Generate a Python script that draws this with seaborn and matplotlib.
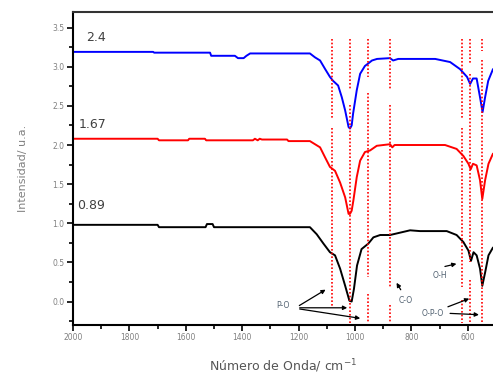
import numpy as np
import pandas as pd
import seaborn as sns
import matplotlib.pyplot as plt
from matplotlib.ticker import MultipleLocator

# spectra (wavenumber in cm-1, intensity in a.u.)
wn_blue = [2000, 1716, 1712, 1514, 1510, 1426, 1415, 1395, 1385, 1372, 1160,
           1142, 1124, 1106, 1089, 1078, 1060, 1047, 1035, 1023, 1018, 1012,
           1007, 994, 982, 965, 954, 940, 922, 876, 865, 847, 716, 663, 628,
           603, 592, 582, 569, 557, 548, 539, 528, 511]
y_blue = [3.19, 3.19, 3.18, 3.18, 3.14, 3.14, 3.11, 3.11, 3.14, 3.17, 3.17,
          3.12, 3.08, 2.97, 2.87, 2.82, 2.76, 2.61, 2.44, 2.23, 2.21, 2.25,
          2.40, 2.70, 2.91, 3.01, 3.04, 3.08, 3.10, 3.11, 3.08, 3.10, 3.10,
          3.06, 2.97, 2.87, 2.78, 2.85, 2.85, 2.61, 2.42, 2.61, 2.82, 2.97]

wn_red = [2000, 1700, 1695, 1592, 1588, 1532, 1528, 1362, 1355, 1345, 1338,
          1330, 1241, 1236, 1160, 1142, 1124, 1106, 1089, 1071, 1053, 1035,
          1023, 1018, 1012, 1006, 994, 982, 965, 947, 923, 876, 868, 860,
          681, 640, 616, 598, 590, 582, 569, 557, 549, 539, 527, 511]
y_red = [2.08, 2.08, 2.06, 2.06, 2.08, 2.08, 2.06, 2.06, 2.08, 2.06, 2.08,
         2.07, 2.07, 2.05, 2.05, 2.01, 1.97, 1.84, 1.72, 1.67, 1.52, 1.33,
         1.12, 1.12, 1.16, 1.29, 1.59, 1.80, 1.91, 1.93, 1.99, 2.01, 1.97,
         2.00, 2.00, 1.95, 1.86, 1.76, 1.69, 1.76, 1.74, 1.55, 1.31, 1.55,
         1.76, 1.89]

wn_black = [2000, 1700, 1695, 1530, 1525, 1505, 1500, 1160, 1136, 1112, 1089,
            1071, 1053, 1035, 1020, 1012, 1004, 993, 977, 953, 935, 911, 876,
            805, 770, 675, 640, 616, 598, 589, 580, 569, 557, 549, 539, 527,
            511]
y_black = [0.98, 0.98, 0.95, 0.95, 0.99, 0.99, 0.95, 0.95, 0.86, 0.74, 0.63,
           0.59, 0.42, 0.20, 0.01, 0.00, 0.16, 0.46, 0.67, 0.74, 0.82, 0.85,
           0.85, 0.91, 0.90, 0.90, 0.85, 0.76, 0.65, 0.52, 0.63, 0.59, 0.42,
           0.20, 0.37, 0.59, 0.69]

series_labels = ["2.4", "1.67", "0.89"]
label_pos = [(1952, 3.38), (1980, 2.26), (1986, 1.23)]

# red marker lines: position and visible pieces (y from, y to)
band_wn = [1082, 1018, 954, 876, 621, 592, 550]
band_pieces = [
    [(3.36, 2.35), (2.22, -0.07)],
    [(3.36, 2.70), (2.51, -0.28)],
    [(3.36, 2.87), (2.66, 0.31), (0.10, -0.28)],
    [(3.36, 2.70), (2.51, 0.18), (-0.05, -0.28)],
    [(3.36, 2.35), (2.22, 0.18), (0.02, -0.28)],
    [(3.36, 3.04), (2.91, 0.50), (0.27, -0.28)],
    [(3.36, 3.20), (3.08, -0.28)],
]

# annotations: text, text position, arrow targets
ann_text = ["P-O", "C-O", "O-H", "O-P-O"]
ann_xy = [(1255, -0.05), (819, 0.01), (699, 0.33), (723, -0.15)]
ann_start = [[(1206, -0.07), (1206, -0.08), (1206, -0.09)],
             [(833, 0.12)],
             [(691, 0.44)],
             [(680, -0.08), (673, -0.15)]]
ann_end = [[(1096, 0.17), (1018, -0.08), (972, -0.22)],
           [(858, 0.27)],
           [(631, 0.49)],
           [(586, 0.05), (551, -0.17)]]


def main():
    sns.set_style("ticks")
    fig = plt.figure(figsize=(4.93, 3.74), dpi=100)
    ax = fig.add_axes([0.148, 0.131, 0.852, 0.837])

    colors = ["#0000ff", "#ff0000", "#000000"]
    for wn, yv, c in zip([wn_blue, wn_red, wn_black],
                         [y_blue, y_red, y_black], colors):
        df = pd.DataFrame({"wn": wn, "y": yv})
        sns.lineplot(data=df, x="wn", y="y", color=c, lw=1.4,
                     estimator=None, sort=False, ax=ax)

    for w, pieces in zip(band_wn, band_pieces):
        for y0, y1 in pieces:
            ax.plot([w, w], [y0, y1], color="#ff0000", lw=1.2,
                    ls=(0, (1, 1.2)))

    for lab, (x, y) in zip(series_labels, label_pos):
        ax.text(x, y, lab, fontsize=9, color="#404040", va="center",
                ha="left")

    for t, (x, y), starts, ends in zip(ann_text, ann_xy, ann_start, ann_end):
        ax.text(x, y, t, fontsize=5.5, color="#506070", ha="center",
                va="center")
        for s, e in zip(starts, ends):
            ax.annotate("", xy=e, xytext=s,
                        arrowprops=dict(arrowstyle="-|>", color="black",
                                        lw=0.9, mutation_scale=6))

    ax.set_xlim(2000, 511)
    ax.set_ylim(-0.3, 3.7)
    ax.xaxis.set_major_locator(MultipleLocator(200))
    ax.xaxis.set_minor_locator(MultipleLocator(100))
    ax.yaxis.set_major_locator(MultipleLocator(0.5))
    ax.yaxis.set_minor_locator(MultipleLocator(0.25))
    ax.set_yticks(np.arange(0, 3.6, 0.5))
    ax.set_yticklabels([f"{v:.1f}" for v in np.arange(0, 3.6, 0.5)])

    ax.tick_params(which="both", direction="out", width=1.2,
                   colors="black", labelcolor="#808080", labelsize=5.5,
                   pad=2)
    ax.tick_params(which="major", length=4)
    ax.tick_params(which="minor", length=3)

    ax.spines["right"].set_visible(False)
    for s in ["left", "bottom", "top"]:
        ax.spines[s].set_linewidth(1.5)
        ax.spines[s].set_color("black")
    ax.spines["top"].set_color("#333333")

    ax.set_xlabel("Número de Onda/ cm$^{-1}$", fontsize=9, color="#555555",
                  labelpad=11)
    ax.set_ylabel("Intensidad/ u.a.", fontsize=8, color="#808080",
                  labelpad=18)

    fig.savefig("out.png", dpi=100)


if __name__ == '__main__':
    main()
